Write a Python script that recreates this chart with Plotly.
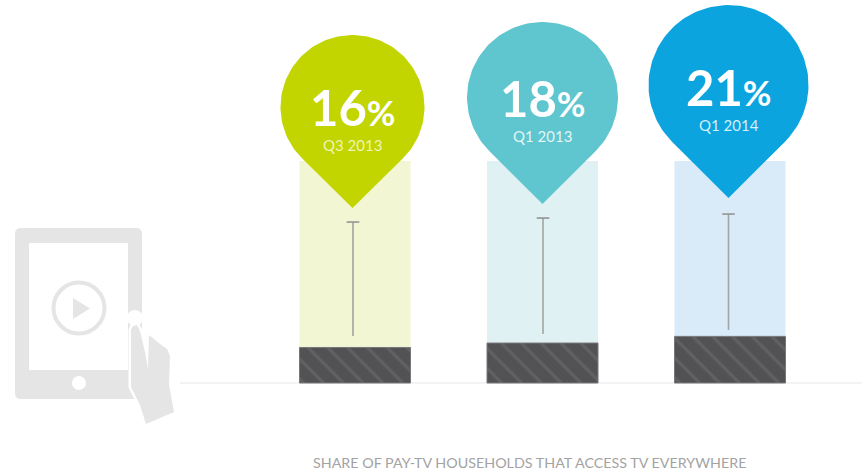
import numpy as np
import plotly.graph_objects as go

W, H = 862, 470

# Data
quarters = ["Q3 2013", "Q1 2013", "Q1 2014"]
share_pct = [16, 18, 21]
full_bar = [100, 100, 100]
whisker_low = [21.2, 22.1, 23.9]
whisker_high = [72.5, 74.3, 76.1]
caption = "SHARE OF PAY-TV HOUSEHOLDS THAT ACCESS TV EVERYWHERE"

# Colours per column
pin_colors = ["#c2d500", "#5fc5ce", "#0ba4de"]
pale_colors = ["#f3f6d3", "#dff1f2", "#d9ebf8"]
sub_colors = ["#eef4b5", "#e2f5f6", "#d4eefa"]

# Axis scale: one column step and one percentage point in pixels
PX_PER_COL, PX_PER_PCT = 187.5, 2.22
X0_PX, BASE_PX = 355, 383
x_range = [-X0_PX / PX_PER_COL, (W - X0_PX) / PX_PER_COL]
y_range = [-(H - BASE_PX) / PX_PER_PCT, BASE_PX / PX_PER_PCT]
positions = list(range(len(quarters)))


def to_x(px):
    return (np.asarray(px, dtype=float) - X0_PX) / PX_PER_COL


def to_y(py):
    return (BASE_PX - np.asarray(py, dtype=float)) / PX_PER_PCT


def pin_outline(cx, cy, r, tip_y):
    """Circle closed by two tangents meeting at a tip below its centre."""
    half = np.arccos(r / (tip_y - cy))
    start = np.pi / 2 + half
    angles = np.linspace(start, start + 2 * np.pi - 2 * half, 120)
    px = np.r_[cx + r * np.cos(angles), cx]
    py = np.r_[cy + r * np.sin(angles), tip_y]
    return np.r_[px, px[0]], np.r_[py, py[0]]


# Pin geometry in page pixels
pin_cx = [352.5, 542.5, 728.5]
pin_cy = [107, 97.5, 85]
pin_r = [72, 75.5, 80]
pin_tip = [208, 204, 198]
number_y = [107, 98, 87]
label_y = [145, 136, 125]
whisker_x = [353, 543, 728.5]

fig = go.Figure()

fig.add_bar(x=positions, y=full_bar, width=111 / PX_PER_COL,
            marker=dict(color=pale_colors, line_width=0), hoverinfo="skip")
fig.add_bar(x=positions, y=share_pct, width=111 / PX_PER_COL,
            marker=dict(color="#525255",
                        line=dict(color="#77777a", width=1),
                        pattern=dict(shape="\\", fgcolor="#707073", bgcolor="#525255",
                                     size=14, solidity=0.22)),
            hoverinfo="skip")

# Whiskers with a cap on the top end
for i in positions:
    wx = float(to_x(whisker_x[i]))
    fig.add_scatter(x=[wx, wx], y=[whisker_low[i], whisker_high[i]], mode="lines",
                    line=dict(color="#a3a5a3", width=1.6), hoverinfo="skip")
    fig.add_scatter(x=[wx], y=[whisker_high[i]], mode="markers",
                    marker=dict(symbol="line-ew", size=9, line=dict(color="#8f8f8f", width=1.5)),
                    hoverinfo="skip")

# Pins
for i in positions:
    px, py = pin_outline(pin_cx[i], pin_cy[i], pin_r[i], pin_tip[i])
    fig.add_scatter(x=to_x(px), y=to_y(py), mode="lines", fill="toself",
                    fillcolor=pin_colors[i], line=dict(width=0, color=pin_colors[i]),
                    hoverinfo="skip")

annotations = []
for i in positions:
    annotations.append(dict(
        x=float(to_x(pin_cx[i])), y=float(to_y(number_y[i])), xref="x", yref="y",
        text=f"<b>{share_pct[i]}</b><b style='font-size:35px'>%</b>",
        showarrow=False, xanchor="center", yanchor="middle",
        font=dict(family="Lato", size=49, color="#ffffff")))
    annotations.append(dict(
        x=float(to_x(pin_cx[i])), y=float(to_y(label_y[i])), xref="x", yref="y",
        text=quarters[i], showarrow=False, xanchor="center", yanchor="middle",
        font=dict(family="Lato", size=15, color=sub_colors[i])))
annotations.append(dict(
    x=529 / W, y=1 - 462 / H, xref="paper", yref="paper", text=caption,
    showarrow=False, xanchor="center", yanchor="middle",
    font=dict(family="Lato", size=14.3, color="#a3a3a3")))


def pt(x, y):
    return f"{x / W:.5f},{1 - y / H:.5f}"


def path(points):
    return "M" + " L".join(pt(x, y) for x, y in points) + " Z"


def rounded_rect(x0, y0, x1, y1, r):
    a, b = pt(x0 + r, y0), pt(x1 - r, y0)
    return ("M" + a + " L" + b + " Q" + pt(x1, y0) + " " + pt(x1, y0 + r) +
            " L" + pt(x1, y1 - r) + " Q" + pt(x1, y1) + " " + pt(x1 - r, y1) +
            " L" + pt(x0 + r, y1) + " Q" + pt(x0, y1) + " " + pt(x0, y1 - r) +
            " L" + pt(x0, y0 + r) + " Q" + pt(x0, y0) + " " + a + " Z")


def disc(cx, cy, r, fill, line=None, line_w=0):
    return dict(type="circle", xref="paper", yref="paper", layer="below",
                x0=(cx - r) / W, x1=(cx + r) / W, y0=1 - (cy + r) / H, y1=1 - (cy - r) / H,
                fillcolor=fill, line=dict(color=line or fill, width=line_w))


ICON = "#e5e5e5"
hand = [(131, 330), (133, 326), (137, 325), (140, 331), (145, 352), (148, 369),
        (149, 335), (160, 344), (167, 349), (170, 356), (169, 385), (174, 412),
        (146, 424), (140, 405), (131, 387)]

shapes = [
    # Baseline
    dict(type="line", xref="paper", yref="y", layer="below",
         x0=180 / W, x1=1, y0=0, y1=0, line=dict(color="#e8e8e8", width=1.2)),
    # Tablet
    dict(type="path", xref="paper", yref="paper", layer="below",
         path=rounded_rect(15, 228, 142, 399, 6), fillcolor=ICON, line_width=0),
    dict(type="rect", xref="paper", yref="paper", layer="below",
         x0=29 / W, x1=128 / W, y0=1 - 370 / H, y1=1 - 243 / H,
         fillcolor="#ffffff", line_width=0),
    disc(79, 383, 7, "#ffffff"),
    disc(79, 308, 25.5, "#ffffff", ICON, 4),
    dict(type="path", xref="paper", yref="paper", layer="below",
         path=path([(73, 298), (90, 308.5), (73, 319)]), fillcolor=ICON, line_width=0),
    # Touch point and hand
    disc(135, 318, 8, "#ffffff"),
    dict(type="path", xref="paper", yref="paper", layer="below",
         path=path(hand), fillcolor=ICON, line=dict(color="#ffffff", width=5)),
    dict(type="path", xref="paper", yref="paper", layer="below",
         path=path(hand), fillcolor=ICON, line_width=0),
]

fig.update_layout(
    width=W, height=H, margin=dict(l=0, r=0, t=0, b=0),
    paper_bgcolor="#ffffff", plot_bgcolor="#ffffff",
    barmode="overlay", showlegend=False,
    xaxis=dict(range=x_range, visible=False, fixedrange=True),
    yaxis=dict(range=y_range, visible=False, fixedrange=True),
    annotations=annotations, shapes=shapes,
)

fig.write_html("out.html")
